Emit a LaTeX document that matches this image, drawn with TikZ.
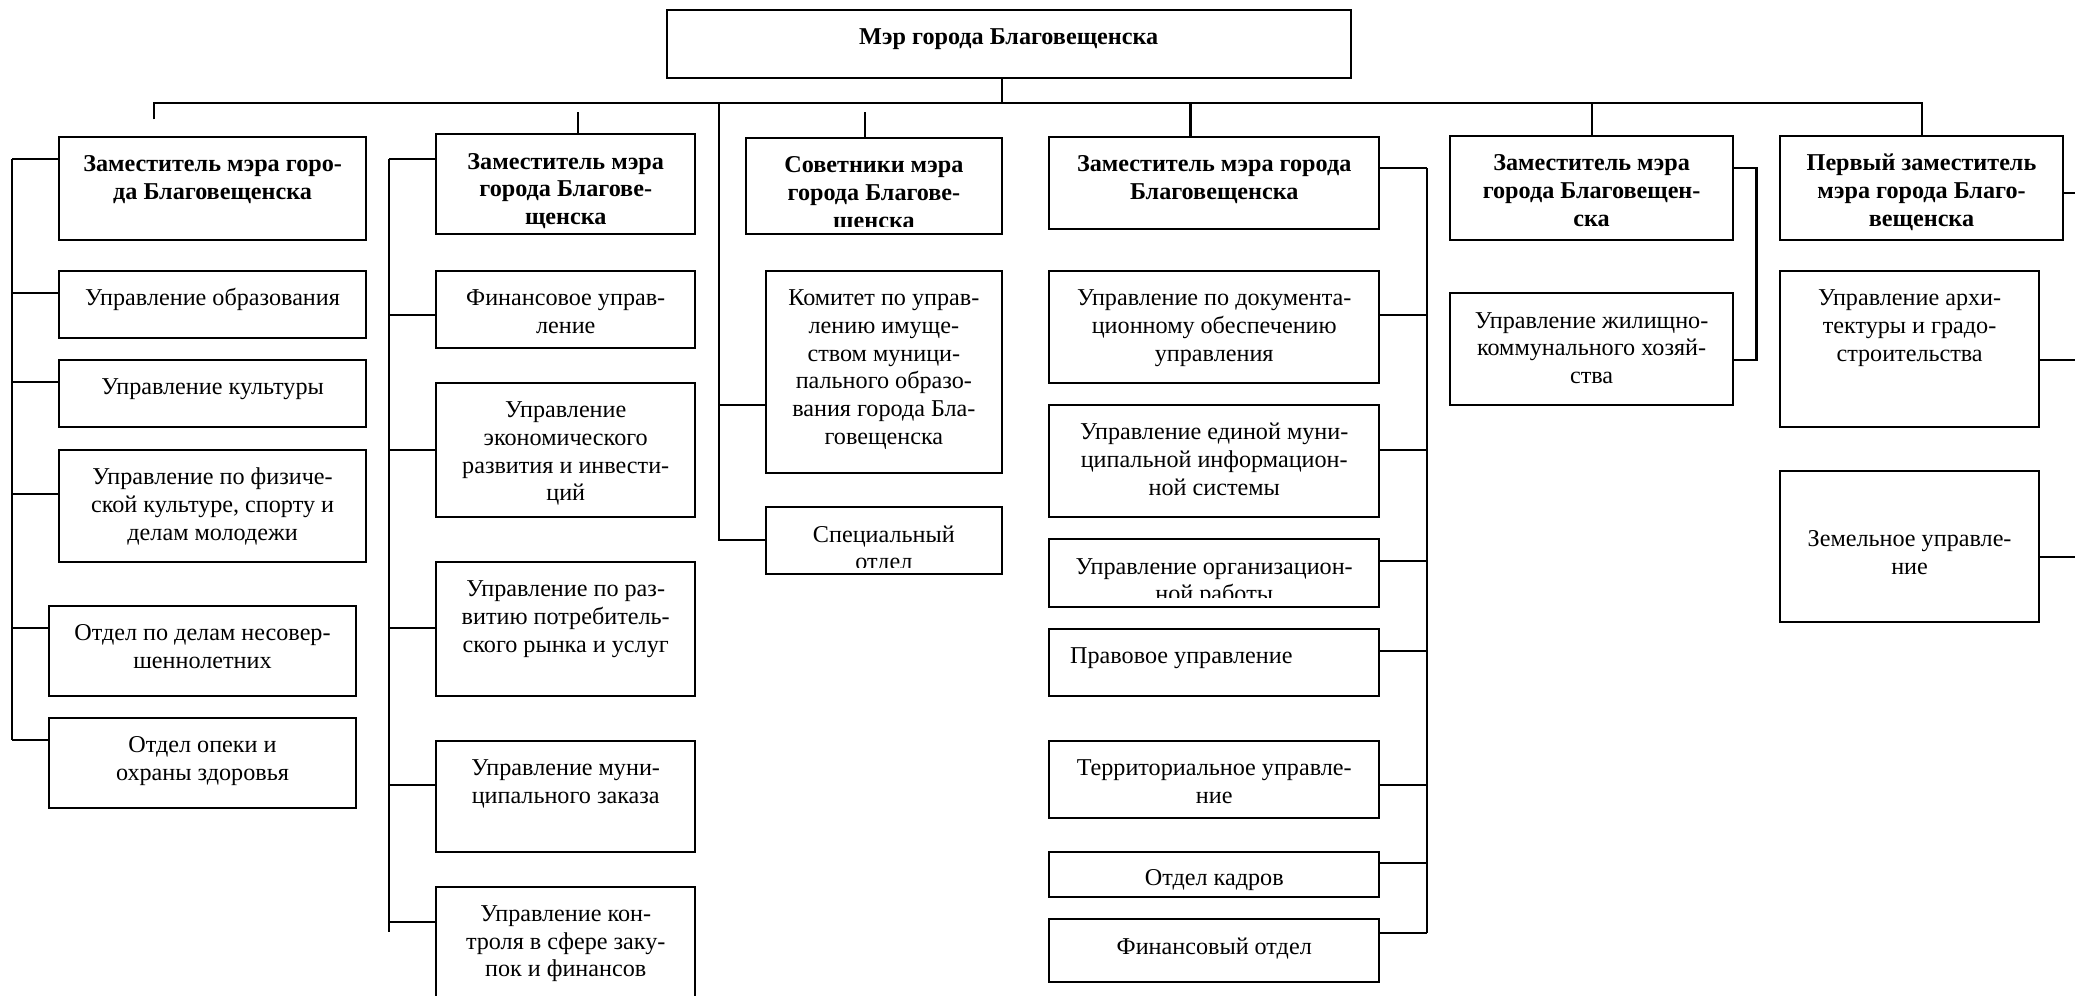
\documentclass[tikz,border=0pt]{standalone}
\usepackage{fontspec}
\setmainfont{Liberation Serif}
\newlength{\unitpx}
\setlength{\unitpx}{0.657pt}
% box text: [top pad]{width}{height}{lines}, sizes in px
\newcommand{\cell}[4][11.5]{\parbox[c][#3\unitpx][t]{#2\unitpx}{\centering\vspace*{#1\unitpx}\strut #4}}

\begin{document}
\begin{tikzpicture}[x=\unitpx, y=-\unitpx, line width=1pt]
\tikzstyle{box}=[draw, inner sep=0pt, outer sep=0pt, anchor=north west, font=\fontsize{12}{13.8}\selectfont]
\useasboundingbox (0,0) rectangle (1568,752);
\clip (0,0) rectangle (1568,752);

\node[box] (m) at (503.7,7.6) {\cell{517}{51.1}{\textbf{Мэр города Благовещенска}}};

% first column
\node[box] (z1) at (44.7,103.5) {\cell{231.9}{77.5}{\textbf{Заместитель мэра горо-\\да Благовещенска}}};
\node[box] (u11) at (44.7,204.6) {\cell{231.9}{51.1}{Управление образования}};
\node[box] (u12) at (44.7,272) {\cell{231.9}{51}{Управление культуры}};
\node[box] (u13) at (44.7,340) {\cell{231.9}{84.5}{Управление по физиче-\\ской культуре, спорту и\\делам молодежи}};
\node[box] (u14) at (37,458) {\cell{232}{68}{Отдел по делам несовер-\\шеннолетних}};
\node[box] (u15) at (37,542.6) {\cell{232}{68.2}{Отдел опеки и\\охраны здоровья}};

% second column
\node[box] (z2) at (329.6,101.5) {\cell{195.8}{75.5}{\textbf{Заместитель мэра\\города Благове-\\щенска}}};
\node[box] (u21) at (329.6,204.6) {\cell{195.8}{58}{Финансовое управ-\\ление}};
\node[box] (u22) at (329.6,289.3) {\cell{195.8}{101.1}{Управление\\экономического\\развития и инвести-\\ций}};
\node[box] (u23) at (329.6,424.5) {\cell{195.8}{101.5}{Управление по раз-\\витию потребитель-\\ского рынка и услуг}};
\node[box] (u24) at (329.6,559.7) {\cell{195.8}{83.9}{Управление муни-\\ципального заказа}};
\node[box] (u25) at (329.6,670) {\cell{195.8}{100}{Управление кон-\\троля в сфере заку-\\пок и финансов}};

% advisers
\begin{scope}
\clip (550,95) rectangle (770,171);
\node[box] (z3) at (563.8,104.5) {\cell{193.2}{72.5}{\textbf{Советники мэра\\города Благове-\\щенска}}};
\end{scope}
\draw (z3.north west) rectangle (z3.south east);
\node[box] (u31) at (578.8,204.6) {\cell{178.2}{152.6}{Комитет по управ-\\лению имуще-\\ством муници-\\пального образо-\\вания города Бла-\\говещенска}};
\begin{scope}
\clip (570,375) rectangle (770,429);
\node[box] (u32) at (578.8,383.4) {\cell{178.2}{50.6}{Специальный\\отдел}};
\end{scope}
\draw (u32.north west) rectangle (u32.south east);

% fourth column
\node[box] (z4) at (792.7,103.3) {\cell{249.7}{70}{\textbf{Заместитель мэра города\\Благовещенска}}};
\node[box] (u41) at (792.7,204.6) {\cell{249.7}{84.6}{Управление по документа-\\ционному обеспечению\\управления}};
\node[box] (u42) at (792.7,306) {\cell{249.7}{84.4}{Управление единой муни-\\ципальной информацион-\\ной системы}};
\begin{scope}
\clip (785,400) rectangle (1050,451.5);
\node[box] (u43) at (792.7,407.6) {\cell{249.7}{50.8}{Управление организацион-\\ной работы}};
\end{scope}
\draw (u43.north west) rectangle (u43.south east);
\node[box] (u44) at (792.7,475.4) {\cell{249.7}{50.6}{\hspace*{16\unitpx}Правовое управление\hspace*{\fill}}};
\node[box] (u45) at (792.7,559.7) {\cell{249.7}{58.7}{Территориальное управле-\\ние}};
\node[box] (u46) at (792.7,644) {\cell[10.5]{249.7}{33.6}{Отдел кадров}};
\node[box] (u47) at (792.7,694.7) {\cell{249.7}{47.1}{Финансовый отдел}};

% fifth and sixth columns
\node[box] (z5) at (1096,103) {\cell{213.4}{78}{\textbf{Заместитель мэра\\города Благовещен-\\ска}}};
\node[box] (u51) at (1096,221.7) {\cell{213.4}{84.3}{Управление жилищно-\\коммунального хозяй-\\ства}};
\node[box] (z6) at (1345,103) {\cell{214}{78}{\textbf{Первый заместитель\\мэра города Благо-\\вещенска}}};
\node[box] (u61) at (1345,204.6) {\cell{196}{118.4}{Управление архи-\\тектуры и градо-\\строительства}};
\node[box] (u62) at (1345,356) {\cell[42.5]{196}{113.8}{Земельное управле-\\ние}};

% top bus
\coordinate (bus0) at (757,78);
\coordinate (busL) at (116,78);
\coordinate (endL) at (116,90.2);
\coordinate (busR) at (1452,78);
\coordinate (bus3) at (543.5,78);
\coordinate (bus4) at (899.6,78);
\coordinate (bus5) at (1202.7,78);
\coordinate (s2) at (437,85);
\coordinate (s3) at (653.8,85);
\draw (m.south -| bus0) -- (bus0);
\draw (endL) -- (busL) -- (busR) -- (z6.north);
\draw (bus4) -- (bus4 |- z4.north)
(bus5) -- (bus5 |- z5.north)
(s2) -- (s2 |- z2.north)
(s3) -- (s3 |- z3.north);

% first column links
\coordinate (j11) at (9.3,120.4);
\coordinate (j12) at (9.3,221.7);
\coordinate (j13) at (9.3,289);
\coordinate (j14) at (9.3,373.6);
\coordinate (j15) at (9.3,474.8);
\coordinate (j16) at (9.3,559);
\draw (j11) -- (j16)
(j11) -- (j11 -| z1.west)
(j12) -- (j12 -| u11.west)
(j13) -- (j13 -| u12.west)
(j14) -- (j14 -| u13.west)
(j15) -- (j15 -| u14.west)
(j16) -- (j16 -| u15.west);

% second column links
\coordinate (j21) at (294,120.5);
\coordinate (j22) at (294,238);
\coordinate (j23) at (294,340);
\coordinate (j24) at (294,474.8);
\coordinate (j25) at (294,593.2);
\coordinate (j26) at (294,696.5);
\coordinate (j27) at (294,704);
\draw (j21) -- (j27)
(j21) -- (j21 -| z2.west)
(j22) -- (j22 -| u21.west)
(j23) -- (j23 -| u22.west)
(j24) -- (j24 -| u23.west)
(j25) -- (j25 -| u24.west)
(j26) -- (j26 -| u25.west);

% advisers links
\coordinate (j31) at (543.5,306);
\coordinate (j32) at (543.5,408);
\draw (bus3) -- (j32) -- (j32 -| u32.west)
(j31) -- (j31 -| u31.west);

% fourth column links
\coordinate (j41) at (1078,127.2);
\coordinate (j42) at (1078,238);
\coordinate (j43) at (1078,340);
\coordinate (j44) at (1078,424);
\coordinate (j45) at (1078,492);
\coordinate (j46) at (1078,593);
\coordinate (j47) at (1078,652);
\coordinate (j48) at (1078,705.3);
\draw (j41) -- (j48)
(j41) -- (j41 -| z4.east)
(j42) -- (j42 -| u41.east)
(j43) -- (j43 -| u42.east)
(j44) -- (j44 -| u43.east)
(j45) -- (j45 -| u44.east)
(j46) -- (j46 -| u45.east)
(j47) -- (j47 -| u46.east)
(j48) -- (j48 -| u47.east);

% fifth column links
\coordinate (j51) at (1327.3,127.2);
\coordinate (j52) at (1327.3,272);
\draw (j51 -| z5.east) -- (j51) -- (j52) -- (j52 -| u51.east);

% sixth column links
\coordinate (r61) at (1575,146);
\coordinate (r62) at (1575,272);
\coordinate (r63) at (1575,420.7);
\draw (r61 -| z6.east) -- (r61)
(r62 -| u61.east) -- (r62)
(r63 -| u62.east) -- (r63);
\end{tikzpicture}
\end{document}
